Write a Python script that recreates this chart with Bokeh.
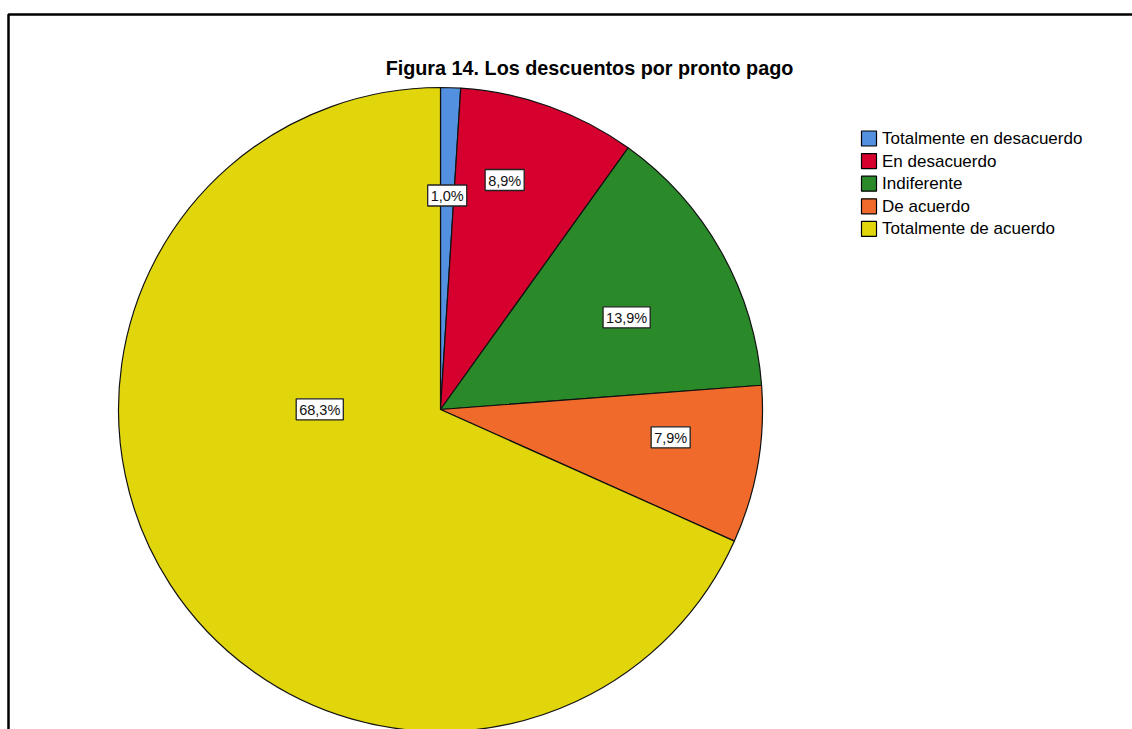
import math
from bokeh.plotting import figure
from bokeh.models import Range1d, BoxAnnotation, ColumnDataSource
from bokeh.core.properties import value
from bokeh.embed import file_html
from bokeh.resources import INLINE

# ---- data ----
title = "Figura 14. Los descuentos por pronto pago"
categories = ["Totalmente en desacuerdo", "En desacuerdo", "Indiferente",
              "De acuerdo", "Totalmente de acuerdo"]
percents = [1.0, 8.9, 13.9, 7.9, 68.3]
labels = ["1,0%", "8,9%", "13,9%", "7,9%", "68,3%"]

# ---- style ----
colors = ["#5391e0", "#d6002e", "#2a8a2a", "#f06a2c", "#e1d60c"]
W, H = 1132, 729
cx, cy, R = 440, H - 409, 322
label_r = [0.665, 0.74, 0.645, 0.72, 0.375]
label_shift_deg = [0.0, -4.0, 3.0, -3.0, 33.0]

p = figure(width=W, height=H, output_backend="svg", toolbar_location=None,
           x_range=Range1d(0, W), y_range=Range1d(0, H), min_border=0)
p.axis.visible = False
p.grid.visible = False
p.outline_line_color = None
p.background_fill_color = "white"
p.border_fill_color = "white"

total = sum(percents)
starts, ends, lx, ly = [], [], [], []
cum = 0.0
for i, v in enumerate(percents):
    a0 = math.pi / 2 - 2 * math.pi * cum / total
    cum += v
    a1 = math.pi / 2 - 2 * math.pi * cum / total
    starts.append(a0)
    ends.append(a1)
    mid = (a0 + a1) / 2 - math.radians(label_shift_deg[i])
    lx.append(cx + R * label_r[i] * math.cos(mid))
    ly.append(cy + R * label_r[i] * math.sin(mid))

src = ColumnDataSource(dict(start=starts, end=ends, color=colors,
                            lx=lx, ly=ly, label=labels))
p.wedge(x=cx, y=cy, radius=R, start_angle="start", end_angle="end",
        direction="clock", fill_color="color", line_color="#111111",
        line_width=1.2, source=src)

p.text(x="lx", y="ly", text="label", source=src,
       text_font=value("Liberation Sans"), text_font_size="14.5px",
       text_color="#111111", text_align="center", text_baseline="middle",
       background_fill_color="white", border_line_color="#222222",
       border_line_width=1.3, padding=dict(left=3, right=3, top=3, bottom=2))

# title
p.text(x=[589], y=[H - 67], text=[title], text_font=value("Liberation Sans"),
       text_font_size="19.8px", text_font_style="bold", text_color="black",
       text_align="center", text_baseline="middle")

# legend
lg_x, lg_y0, lg_dy = 868.5, H - 138, 22.6
leg = ColumnDataSource(dict(
    x=[lg_x] * len(categories),
    y=[lg_y0 - i * lg_dy for i in range(len(categories))],
    tx=[lg_x + 13] * len(categories),
    color=colors, cat=categories))
p.rect(x="x", y="y", width=15, height=15, fill_color="color",
       line_color="black", line_width=1.2, source=leg)
p.text(x="tx", y="y", text="cat", source=leg,
       text_font=value("Liberation Sans"), text_font_size="17px",
       text_color="black", text_align="left", text_baseline="middle")

# frame
p.add_layout(BoxAnnotation(left=8, right=W + 10, top=H - 14, bottom=-10,
                           fill_alpha=0, line_color="black", line_alpha=1,
                           line_width=2.5))

open("out.html", "w").write(file_html(p, INLINE))
